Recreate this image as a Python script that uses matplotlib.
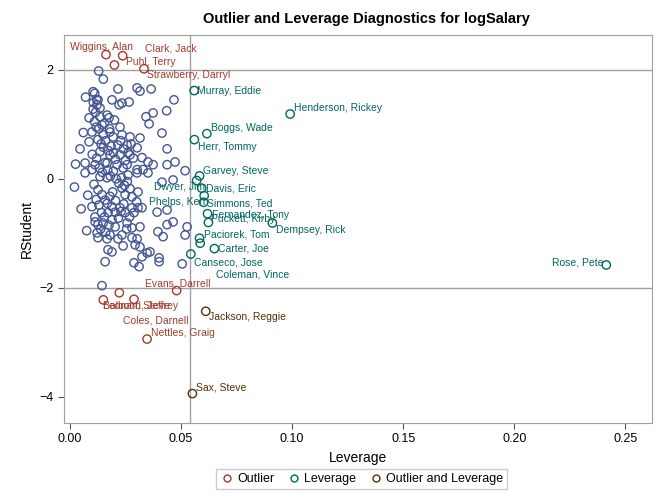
import matplotlib
matplotlib.use("Agg")
import matplotlib.pyplot as plt
from matplotlib.lines import Line2D

plt.rcParams['font.family'] = ['Liberation Sans', 'DejaVu Sans']

# observations that are neither outliers nor high leverage
lev_ok = [0.0129, 0.0150, 0.0104, 0.0111, 0.0120, 0.0126, 0.0122, 0.0216, 0.0302, 0.0315,
          0.0365, 0.0468, 0.0189, 0.0234, 0.0266, 0.0221, 0.0435, 0.0374, 0.0342, 0.0356,
          0.0086, 0.0104, 0.0135, 0.0167, 0.0176, 0.0144, 0.0099, 0.0225, 0.0149, 0.0180,
          0.0194, 0.0086, 0.0126, 0.0234, 0.0270, 0.0315, 0.0414, 0.0257, 0.0302, 0.0437,
          0.0135, 0.0180, 0.0225, 0.0270, 0.0068, 0.0113, 0.0167, 0.0212, 0.0257, 0.0324,
          0.0351, 0.0374, 0.0437, 0.0473, 0.0518, 0.0099, 0.0239, 0.0302, 0.0329, 0.0068,
          0.0135, 0.0167, 0.0261, 0.0302, 0.0351, 0.0414, 0.0464, 0.0126, 0.0144, 0.0158,
          0.0234, 0.0248, 0.0279, 0.0306, 0.0099, 0.0189, 0.0203, 0.0171, 0.0225, 0.0248,
          0.0279, 0.0306, 0.0324, 0.0392, 0.0437, 0.0113, 0.0126, 0.0149, 0.0189, 0.0203,
          0.0257, 0.0279, 0.0315, 0.0396, 0.0437, 0.0464, 0.0527, 0.0518, 0.0122, 0.0180,
          0.0234, 0.0126, 0.0167, 0.0216, 0.0279, 0.0302, 0.0419, 0.0171, 0.0189, 0.0239,
          0.0293, 0.0315, 0.0360, 0.0347, 0.0324, 0.0401, 0.0401, 0.0505, 0.0158, 0.0288,
          0.0311, 0.0144, 0.0025, 0.0020, 0.0045, 0.0060, 0.0070, 0.0050, 0.0075, 0.0080,
          0.0110, 0.0118, 0.0130, 0.0140, 0.0150, 0.0160, 0.0172, 0.0185, 0.0195, 0.0205,
          0.0215, 0.0228, 0.0240, 0.0250, 0.0262, 0.0275, 0.0285, 0.0120, 0.0132, 0.0145,
          0.0158, 0.0170, 0.0182, 0.0195, 0.0208, 0.0220, 0.0232, 0.0245, 0.0258, 0.0270,
          0.0118, 0.0130, 0.0142, 0.0155, 0.0168, 0.0180, 0.0192, 0.0205, 0.0218, 0.0230,
          0.0242, 0.0255, 0.0268, 0.0288, 0.0300, 0.0105, 0.0115, 0.0135, 0.0155, 0.0178,
          0.0200, 0.0100, 0.0108, 0.0112, 0.0138, 0.0160, 0.0175]
rs_ok = [1.98, 1.83, 1.60, 1.57, 1.45, 1.45, 1.36, 1.65, 1.67, 1.61,
         1.65, 1.45, 1.45, 1.39, 1.41, 1.36, 1.25, 1.21, 1.14, 1.01,
         1.12, 1.28, 1.14, 1.17, 1.12, 0.99, 0.86, 0.95, 0.81, 0.86,
         0.77, 0.68, 0.72, 0.81, 0.77, 0.75, 0.84, 0.62, 0.57, 0.55,
         0.50, 0.44, 0.44, 0.44, 0.29, 0.26, 0.29, 0.26, 0.26, 0.39,
         0.31, 0.26, 0.26, 0.31, 0.15, 0.17, 0.20, 0.17, 0.17, 0.11,
         0.04, 0.02, 0.07, 0.11, 0.11, -0.06, -0.02, -0.20, -0.29, -0.39,
         -0.17, -0.29, -0.33, -0.24, -0.51, -0.51, -0.61, -0.62, -0.53, -0.62,
         -0.53, -0.53, -0.53, -0.61, -0.57, -0.79, -0.84, -0.81, -0.75, -0.88,
         -0.81, -0.90, -0.88, -0.97, -0.84, -0.79, -0.88, -1.03, -0.99, -1.03,
         -1.03, -1.08, -1.10, -1.10, -1.08, -1.10, -1.06, -1.30, -1.34, -1.23,
         -1.21, -1.25, -1.34, -1.36, -1.43, -1.45, -1.52, -1.56, -1.52, -1.54,
         -1.61, -1.96, 0.27, -0.15, 0.55, 0.85, 1.50, -0.55, -0.95, -0.30,
         1.05, 0.95, 0.92, 0.64, 0.58, 0.70, 0.52, 0.60, 0.48, 0.36,
         0.62, 0.70, 0.55, 0.34, 0.48, 0.64, 0.38, 0.38, 0.20, 0.12,
         0.30, 0.16, 0.05, 0.14, 0.00, -0.08, 0.02, -0.12, -0.05, -0.18,
         -0.38, -0.48, -0.62, -0.70, -0.45, -0.32, -0.24, -0.40, -0.72, -0.60,
         -0.46, -0.92, -0.70, -0.62, -0.42, 1.40, 1.22, 1.30, 1.02, 0.92,
         1.08, 0.45, -0.10, -0.70, -0.92, -0.98, -0.85]

# labeled observations
names = ["Wiggins, Alan", "Clark, Jack", "Puhl, Terry", "Strawberry, Darryl",
         "Evans, Darrell", "Leonard, Jeffrey", "Balboni, Steve", "Coles, Darnell",
         "Nettles, Graig",
         "Murray, Eddie", "Henderson, Rickey", "Boggs, Wade", "Herr, Tommy",
         "Garvey, Steve", "Dwyer, Jim", "Davis, Eric", "Phelps, Ken", "Simmons, Ted",
         "Fernandez, Tony", "Puckett, Kirby", "Dempsey, Rick", "Paciorek, Tom",
         "Coleman, Vince", "Carter, Joe", "Canseco, Jose", "Rose, Pete",
         "Jackson, Reggie", "Sax, Steve"]
lev_lab = [0.0162, 0.0237, 0.0200, 0.0333,
           0.0480, 0.0150, 0.0222, 0.0288,
           0.0347,
           0.0559, 0.0991, 0.0616, 0.0560,
           0.0583, 0.0570, 0.0593, 0.0604, 0.0601,
           0.0619, 0.0623, 0.0911, 0.0583,
           0.0586, 0.0650, 0.0544, 0.2414,
           0.0611, 0.0551]
rs_lab = [2.28, 2.26, 2.09, 2.02,
          -2.05, -2.22, -2.09, -2.21,
          -2.94,
          1.62, 1.19, 0.83, 0.72,
          0.055, -0.03, -0.17, -0.31, -0.43,
          -0.64, -0.80, -0.81, -1.09,
          -1.18, -1.28, -1.38, -1.58,
          -2.43, -3.94]
kind = ["Outlier"] * 9 + ["Leverage"] * 17 + ["Outlier and Leverage"] * 2

# label placement: offset in pixels and horizontal alignment
place = {
    "Wiggins, Alan": (-5, 8, "center"), "Clark, Jack": (22, 7, "left"),
    "Puhl, Terry": (12, 3, "left"), "Strawberry, Darryl": (3, -6, "left"),
    "Evans, Darrell": (1, 7, "center"), "Leonard, Jeffrey": (0, -6, "left"),
    "Balboni, Steve": (-16, -13, "left"), "Coles, Darnell": (-11, -21, "left"),
    "Nettles, Graig": (4, 6, "left"),
    "Murray, Eddie": (3, 0, "left"), "Henderson, Rickey": (4, 6, "left"),
    "Boggs, Wade": (4, 6, "left"), "Herr, Tommy": (4, -7, "left"),
    "Garvey, Steve": (3, 5, "left"), "Dwyer, Jim": (8, -7, "right"),
    "Davis, Eric": (4, 0, "left"), "Phelps, Ken": (1, -6, "right"),
    "Simmons, Ted": (3, -1, "left"), "Fernandez, Tony": (4, -1, "left"),
    "Puckett, Kirby": (3, 3, "left"), "Dempsey, Rick": (4, -7, "left"),
    "Paciorek, Tom": (4, 4, "left"), "Coleman, Vince": (16, -31, "left"),
    "Carter, Joe": (4, 0, "left"), "Canseco, Jose": (3, -8, "left"),
    "Rose, Pete": (-3, 2, "right"), "Jackson, Reggie": (3, -6, "left"),
    "Sax, Steve": (4, 6, "left"),
}

colors = {"Outlier": "#A23A2E", "Leverage": "#01665E", "Outlier and Leverage": "#543005"}
blue = "#445694"
lev_cut = 0.054

fig = plt.figure(figsize=(6.66, 5), dpi=100)
ax = fig.add_axes([0.0961, 0.154, 0.883, 0.776])

ax.axvline(lev_cut, color="#a0a0a0", lw=1, zorder=1)
ax.axhline(2, color="#a0a0a0", lw=1, zorder=1)
ax.axhline(-2, color="#a0a0a0", lw=1, zorder=1)

ax.scatter(lev_ok, rs_ok, s=36, facecolors="none", edgecolors=blue, linewidths=1, zorder=2)

for n, x, y, k in zip(names, lev_lab, rs_lab, kind):
    c = colors[k]
    ax.scatter([x], [y], s=36, facecolors="none", edgecolors=c, linewidths=1, zorder=3)
    dx, dy, ha = place[n]
    ax.annotate(n, (x, y), xytext=(dx, dy), textcoords="offset pixels",
                ha=ha, va="center", fontsize=7.5, color=c, zorder=4)

ax.set_xlim(-0.0027, 0.262)
ax.set_ylim(-4.48, 2.64)
ax.set_xticks([0.00, 0.05, 0.10, 0.15, 0.20, 0.25])
ax.set_xticklabels(["0.00", "0.05", "0.10", "0.15", "0.20", "0.25"])
ax.set_yticks([-4, -2, 0, 2])
ax.tick_params(labelsize=9, color="#555555", length=4)
for sp in ax.spines.values():
    sp.set_color("#a0a0a0")

ax.set_xlabel("Leverage", fontsize=10, labelpad=4)
ax.set_ylabel("RStudent", fontsize=10)
fig.text(0.55, 0.962, "Outlier and Leverage Diagnostics for logSalary", fontsize=10.5,
         fontweight="bold", ha="center", va="center")

handles = [Line2D([], [], marker="o", ls="none", markersize=5, markerfacecolor="none",
                  markeredgecolor=colors[k], markeredgewidth=1, label=k)
           for k in ["Outlier", "Leverage", "Outlier and Leverage"]]
fig.legend(handles=handles, loc="center", bbox_to_anchor=(0.543, 0.042), ncol=3,
           fontsize=9, frameon=True, fancybox=False, edgecolor="#c0c0c0",
           handletextpad=0.2, columnspacing=1.0, borderpad=0.3, handlelength=1.2)

fig.savefig("out.png", dpi=100)
